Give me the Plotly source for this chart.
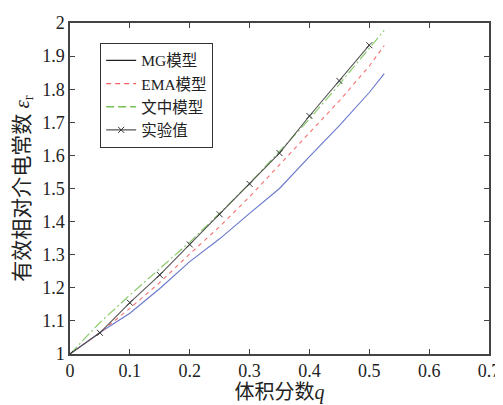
import plotly.graph_objects as go

# Volume fraction q
q_exp = [0, 0.05, 0.10, 0.15, 0.20, 0.25, 0.30, 0.35, 0.40, 0.45, 0.50]
eps_exp = [1.0, 1.064, 1.155, 1.239, 1.331, 1.422, 1.514, 1.607, 1.719, 1.825, 1.933]

q_model = [0, 0.05, 0.10, 0.15, 0.20, 0.25, 0.30, 0.35, 0.40, 0.45, 0.50, 0.525]
eps_mg = [1.0, 1.065, 1.123, 1.198, 1.279, 1.348, 1.425, 1.50, 1.596, 1.69, 1.79, 1.847]
eps_ema = [1.0, 1.065, 1.138, 1.216, 1.302, 1.385, 1.475, 1.572, 1.670, 1.765, 1.87, 1.932]
eps_paper = [1.0, 1.095, 1.178, 1.258, 1.338, 1.425, 1.515, 1.612, 1.71, 1.815, 1.925, 1.978]

x_ticks = [0, 0.1, 0.2, 0.3, 0.4, 0.5, 0.6, 0.7]
x_labels = ["0", "0.1", "0.2", "0.3", "0.4", "0.5", "0.6", "0.7"]
y_ticks = [1, 1.1, 1.2, 1.3, 1.4, 1.5, 1.6, 1.7, 1.8, 1.9, 2]
y_labels = ["1", "1.1", "1.2", "1.3", "1.4", "1.5", "1.6", "1.7", "1.8", "1.9", "2"]

FONT = "Liberation Serif, Times New Roman, Noto Sans CJK SC, serif"

fig = go.Figure()
# plotted curves
fig.add_trace(go.Scatter(x=q_model, y=eps_mg, mode="lines", showlegend=False,
                         line=dict(color="#6878cc", width=1.1)))
fig.add_trace(go.Scatter(x=q_model, y=eps_ema, mode="lines", showlegend=False,
                         line=dict(color="#f77070", width=1.1, dash="4px,4px")))
fig.add_trace(go.Scatter(x=q_model, y=eps_paper, mode="lines", showlegend=False,
                         line=dict(color="#80c860", width=1.1, dash="10px,3px,2px,3px")))
fig.add_trace(go.Scatter(x=q_exp, y=eps_exp, mode="lines+markers", showlegend=False,
                         line=dict(color="#555555", width=1.1),
                         marker=dict(symbol="x-thin", size=6, color="#333333",
                                     line=dict(width=1, color="#333333"))))
# legend entries
fig.add_trace(go.Scatter(x=[None], y=[None], mode="lines", name="MG模型",
                         line=dict(color="#222222", width=1.2)))
fig.add_trace(go.Scatter(x=[None], y=[None], mode="lines", name="EMA模型",
                         line=dict(color="#f26060", width=1.4, dash="5px,4px")))
fig.add_trace(go.Scatter(x=[None], y=[None], mode="lines", name="文中模型",
                         line=dict(color="#74c050", width=1.4, dash="8px,4px")))
fig.add_trace(go.Scatter(x=[None], y=[None], mode="lines+markers", name="实验值",
                         line=dict(color="#555555", width=1.2),
                         marker=dict(symbol="x-thin", size=6, color="#333333",
                                     line=dict(width=1, color="#333333"))))

axis_common = dict(showgrid=False, zeroline=False, showline=True, linecolor="#444444",
                   linewidth=1.5, mirror="ticks", ticks="inside", ticklen=5,
                   tickcolor="#444444", automargin=False,
                   tickfont=dict(family=FONT, size=18, color="#222222"))

fig.update_xaxes(range=[0, 0.7], tickvals=x_ticks, ticktext=x_labels,
                 title=dict(text="体积分数<i>q</i>", font=dict(family=FONT, size=20, color="#222222"),
                            standoff=5),
                 **axis_common)
fig.update_yaxes(range=[1, 2], tickvals=y_ticks, ticktext=y_labels,
                 title=dict(text="有效相对介电常数 <i>ε</i><sub>r</sub>",
                            font=dict(family=FONT, size=21, color="#222222"), standoff=7),
                 **axis_common)

fig.update_layout(
    width=495, height=397,
    margin=dict(l=62, r=14, t=15, b=51),
    plot_bgcolor="white", paper_bgcolor="white",
    legend=dict(x=0.072, y=0.94, xanchor="left", yanchor="top",
                bordercolor="#333333", borderwidth=1, bgcolor="white",
                font=dict(family=FONT, size=15.5, color="#222222"),
                tracegroupgap=0, itemwidth=30),
)

fig.write_html("out.html")
